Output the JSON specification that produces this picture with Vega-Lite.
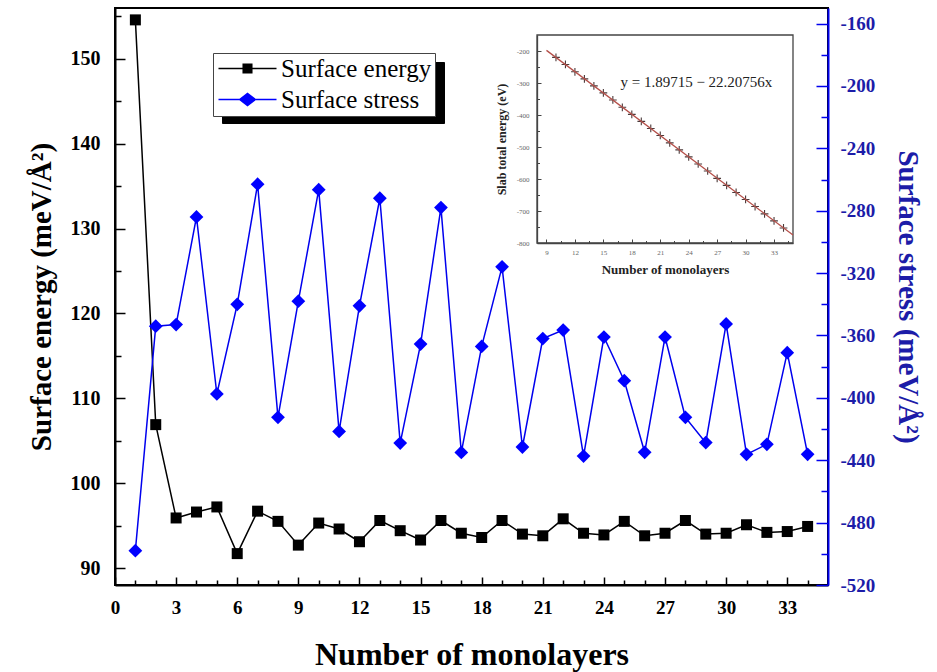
{
  "$schema": "https://vega.github.io/schema/vega-lite/v6.json",
  "width": 713,
  "height": 577,
  "autosize": {"type": "none"},
  "padding": {"left": 115, "top": 8, "right": 109, "bottom": 87},
  "background": "white",
  "config": {
    "view": {"stroke": "black", "strokeWidth": 2},
    "font": "Liberation Serif",
    "axis": {"grid": false, "labelFont": "Liberation Serif", "titleFont": "Liberation Serif", "labelOverlap": false, "labelFlush": false}
  },
  "datasets": {
    "main": [
      {"n": 1, "energy": 154.6, "stress": -498},
      {"n": 2, "energy": 106.9, "stress": -354},
      {"n": 3, "energy": 95.9, "stress": -353},
      {"n": 4, "energy": 96.6, "stress": -284},
      {"n": 5, "energy": 97.2, "stress": -397.5},
      {"n": 6, "energy": 91.7, "stress": -340},
      {"n": 7, "energy": 96.7, "stress": -263},
      {"n": 8, "energy": 95.5, "stress": -412.5},
      {"n": 9, "energy": 92.7, "stress": -338},
      {"n": 10, "energy": 95.3, "stress": -266.5},
      {"n": 11, "energy": 94.6, "stress": -421.5},
      {"n": 12, "energy": 93.1, "stress": -341},
      {"n": 13, "energy": 95.6, "stress": -272},
      {"n": 14, "energy": 94.4, "stress": -429},
      {"n": 15, "energy": 93.3, "stress": -365.5},
      {"n": 16, "energy": 95.6, "stress": -278},
      {"n": 17, "energy": 94.1, "stress": -435},
      {"n": 18, "energy": 93.6, "stress": -367},
      {"n": 19, "energy": 95.6, "stress": -316},
      {"n": 20, "energy": 94.0, "stress": -431.5},
      {"n": 21, "energy": 93.8, "stress": -362},
      {"n": 22, "energy": 95.8, "stress": -356.5},
      {"n": 23, "energy": 94.1, "stress": -437.3},
      {"n": 24, "energy": 93.9, "stress": -361},
      {"n": 25, "energy": 95.5, "stress": -389},
      {"n": 26, "energy": 93.8, "stress": -434.9},
      {"n": 27, "energy": 94.1, "stress": -361},
      {"n": 28, "energy": 95.6, "stress": -412.5},
      {"n": 29, "energy": 94.0, "stress": -428.7},
      {"n": 30, "energy": 94.1, "stress": -352.6},
      {"n": 31, "energy": 95.1, "stress": -436.2},
      {"n": 32, "energy": 94.2, "stress": -429.8},
      {"n": 33, "energy": 94.3, "stress": -371},
      {"n": 34, "energy": 94.9, "stress": -436.2}
    ],
    "inset": [
      {"n": 10, "E": -220}, {"n": 11, "E": -242}, {"n": 12, "E": -265}, {"n": 13, "E": -287},
      {"n": 14, "E": -309}, {"n": 15, "E": -331}, {"n": 16, "E": -353}, {"n": 17, "E": -376},
      {"n": 18, "E": -398}, {"n": 19, "E": -420}, {"n": 20, "E": -442}, {"n": 21, "E": -464},
      {"n": 22, "E": -487}, {"n": 23, "E": -509}, {"n": 24, "E": -531}, {"n": 25, "E": -553},
      {"n": 26, "E": -575}, {"n": 27, "E": -598}, {"n": 28, "E": -620}, {"n": 29, "E": -642},
      {"n": 30, "E": -664}, {"n": 31, "E": -686}, {"n": 32, "E": -709}, {"n": 33, "E": -731},
      {"n": 34, "E": -753}
    ],
    "fit": [{"n": 9, "E": -198}, {"n": 35, "E": -775}],
    "none": []
  },
  "layer": [
    {
      "data": {"name": "main"},
      "layer": [
        {
          "layer": [
            {
              "mark": {"type": "line", "color": "#000000", "strokeWidth": 1.5, "point": {"filled": true, "shape": "square", "size": 121, "color": "#000000", "opacity": 1}},
              "encoding": {
                "x": {
                  "field": "n", "type": "quantitative",
                  "scale": {"domain": [0, 35], "nice": false, "zero": false},
                  "axis": {
                    "orient": "bottom",
                    "values": [0,1,2,3,4,5,6,7,8,9,10,11,12,13,14,15,16,17,18,19,20,21,22,23,24,25,26,27,28,29,30,31,32,33,34],
                    "tickCount": 200,
                    "labelExpr": "datum.value % 3 === 0 ? '' + datum.value : ''",
                    "labelOverlap": false,
                    "tickSize": {"condition": {"test": "datum.value % 3 === 0", "value": -8}, "value": -5},
                    "tickColor": "black", "tickWidth": 1.5,
                    "domainColor": "black", "domainWidth": 2,
                    "labelPadding": 21, "labelFontSize": 19, "labelFontWeight": "bold", "labelColor": "black",
                    "title": "Number of monolayers", "titleFontSize": 32, "titleFontWeight": "bold", "titleColor": "black", "titlePadding": 19
                  }
                },
                "y": {
                  "field": "energy", "type": "quantitative",
                  "scale": {"domain": [88, 156], "nice": false, "zero": false},
                  "axis": {
                    "orient": "left",
                    "values": [90,95,100,105,110,115,120,125,130,135,140,145,150,155],
                    "tickCount": 200,
                    "labelExpr": "datum.value % 10 === 0 ? '' + datum.value : ''",
                    "labelOverlap": false,
                    "tickSize": {"condition": {"test": "datum.value % 10 === 0", "value": -10}, "value": -6},
                    "tickColor": "black", "tickWidth": 1.5,
                    "domainColor": "black", "domainWidth": 2,
                    "labelPadding": 25, "labelFontSize": 20, "labelFontWeight": "bold", "labelColor": "black",
                    "title": "Surface energy (meV/Å²)", "titleFontSize": 29, "titleFontWeight": "bold", "titleColor": "black", "titlePadding": 14
                  }
                }
              }
            },
            {
              "data": {"name": "none"},
              "mark": {"type": "point", "filled": true, "opacity": 1},
              "encoding": {
                "color": {
                  "datum": "Surface energy",
                  "scale": {"domain": ["Surface energy", "Surface stress"], "range": ["#000000", "#0000ff"]},
                  "legend": {
                    "orient": "none", "legendX": 98, "legendY": 45, "title": null,
                    "fillColor": "white", "strokeColor": "#444", "padding": 3, "rowPadding": 5,
                    "symbolSize": 374, "symbolOffset": 19, "labelOffset": 21, "symbolStrokeWidth": 0, "symbolOpacity": 1,
                    "labelFont": "Liberation Serif", "labelFontSize": 25, "labelColor": "black", "zindex": 2
                  }
                },
                "shape": {
                  "datum": "Surface energy",
                  "scale": {"domain": ["Surface energy", "Surface stress"], "range": ["M-3,-0.08H3V0.08H-3Z M-0.52,-0.52H0.52V0.52H-0.52Z", "M-3,-0.08H3V0.08H-3Z M0,-0.72L0.93,0L0,0.72L-0.93,0Z"]},
                  "legend": {
                    "orient": "none", "legendX": 98, "legendY": 45, "title": null,
                    "fillColor": "white", "strokeColor": "#444", "padding": 3, "rowPadding": 5,
                    "symbolSize": 374, "symbolOffset": 19, "labelOffset": 21, "symbolStrokeWidth": 0, "symbolOpacity": 1,
                    "labelFont": "Liberation Serif", "labelFontSize": 25, "labelColor": "black", "zindex": 2
                  }
                }
              }
            },
            {
              "data": {"name": "none"},
              "mark": {"type": "point", "filled": true, "opacity": 1},
              "encoding": {
                "color": {"datum": "Surface stress"},
                "shape": {"datum": "Surface stress"}
              }
            },
            {
              "data": {"name": "none"},
              "mark": {"type": "point", "filled": true, "color": "#000000", "opacity": 1},
              "encoding": {
                "size": {
                  "datum": "E", "type": "ordinal",
                  "scale": {"domain": ["E", "S"], "range": [625, 625]},
                  "legend": {
                    "orient": "none", "legendX": 107, "legendY": 54, "title": null,
                    "fillColor": "black", "strokeColor": "black", "padding": 3, "rowPadding": 5,
                    "symbolType": "M-8.64,-1H8.64V1H-8.64Z",
                    "symbolOffset": 95.5, "labelOffset": 0, "symbolStrokeWidth": 0, "symbolOpacity": 1,
                    "symbolFillColor": "black", "symbolStrokeColor": "black",
                    "labelExpr": "''",
                    "labelFontSize": 1, "labelColor": "black", "zindex": 1
                  }
                }
              }
            },
            {
              "data": {"name": "none"},
              "mark": {"type": "point", "filled": true, "color": "#000000", "opacity": 1},
              "encoding": {
                "size": {"datum": "S", "type": "ordinal"}
              }
            }
          ]
        },
        {
          "mark": {"type": "line", "color": "#0000ee", "strokeWidth": 1.5, "point": {"filled": true, "shape": "diamond", "size": 190, "color": "#0000ff", "opacity": 1}},
          "encoding": {
            "x": {"field": "n", "type": "quantitative"},
            "y": {
              "field": "stress", "type": "quantitative",
              "scale": {"domain": [-520, -150], "nice": false, "zero": false},
              "axis": {
                "orient": "right",
                "values": [-520,-500,-480,-460,-440,-420,-400,-380,-360,-340,-320,-300,-280,-260,-240,-220,-200,-180,-160],
                "tickCount": 200,
                "labelExpr": "datum.value % 40 === 0 ? '' + datum.value : ''",
                "labelOverlap": false,
                "tickSize": {"condition": {"test": "datum.value % 40 === 0", "value": -12}, "value": -7},
                "tickColor": "#0000ee", "tickWidth": 1.5,
                "domainColor": "#0000ee", "domainWidth": 2,
                "labelPadding": 24, "labelFontSize": 19, "labelFontWeight": "bold", "labelColor": "#1c1ca8",
                "title": "Surface stress (meV/Å²)", "titleFontSize": 29, "titleFontWeight": "bold", "titleColor": "#1c1ca8", "titlePadding": 18
              }
            }
          }
        }
      ],
      "resolve": {"scale": {"y": "independent"}}
    },
    {
      "layer": [
        {
          "data": {"values": [{}]},
          "mark": {"type": "rect", "fill": "white", "stroke": "#444444", "strokeWidth": 1.3},
          "encoding": {
            "x": {
              "datum": 8, "type": "quantitative",
              "scale": {"domain": [8, 35], "range": [422, 678], "nice": false, "zero": false},
              "axis": {
                "orient": "bottom", "offset": -342, "zindex": 1,
                "values": [9,10.5,12,13.5,15,16.5,18,19.5,21,22.5,24,25.5,27,28.5,30,31.5,33,34.5],
                "tickCount": 200,
                "labelExpr": "datum.value % 3 === 0 ? '' + datum.value : ''",
                "labelOverlap": false,
                "tickSize": {"condition": {"test": "datum.value % 3 === 0", "value": -4}, "value": -2.5},
                "tickColor": "#444", "tickWidth": 1, "domainColor": "#444", "domainWidth": 1.3,
                "labelPadding": 9, "labelFontSize": 7, "labelColor": "#666",
                "title": "Number of monolayers", "titleFontSize": 13, "titleFontWeight": "bold", "titleColor": "#222", "titlePadding": 7
              }
            },
            "x2": {"datum": 35},
            "y": {
              "datum": -800, "type": "quantitative",
              "scale": {"domain": [-800, -150], "range": [235, 27], "nice": false, "zero": false},
              "axis": {
                "orient": "left", "offset": -422, "zindex": 1,
                "values": [-800,-750,-700,-650,-600,-550,-500,-450,-400,-350,-300,-250,-200],
                "tickCount": 200,
                "labelExpr": "datum.value % 100 === 0 ? '' + datum.value : ''",
                "labelOverlap": false,
                "tickSize": {"condition": {"test": "datum.value % 100 === 0", "value": -4}, "value": -2.5},
                "tickColor": "#444", "tickWidth": 1, "domainColor": "#444", "domainWidth": 1.3,
                "labelPadding": 12, "labelFontSize": 7, "labelColor": "#666",
                "title": "Slab total energy (eV)", "titleFontSize": 12, "titleFontWeight": "bold", "titleColor": "#222", "titlePadding": 8
              }
            },
            "y2": {"datum": -150}
          }
        },
        {
          "data": {"name": "inset"},
          "mark": {"type": "point", "shape": "M-1,0H1M0,-1V1", "filled": false, "size": 60, "stroke": "#4a3a3a", "strokeWidth": 1.1, "opacity": 1},
          "encoding": {
            "x": {"field": "n", "type": "quantitative"},
            "y": {"field": "E", "type": "quantitative"}
          }
        },
        {
          "data": {"name": "fit"},
          "mark": {"type": "line", "color": "#b5504a", "strokeWidth": 1.3},
          "encoding": {
            "x": {"field": "n", "type": "quantitative"},
            "y": {"field": "E", "type": "quantitative"}
          }
        },
        {
          "data": {"values": [{}]},
          "mark": {"type": "text", "align": "left", "baseline": "middle", "font": "Liberation Serif", "fontSize": 15, "color": "#222"},
          "encoding": {
            "x": {"datum": 16.8, "type": "quantitative"},
            "y": {"datum": -297, "type": "quantitative"},
            "text": {"value": "y = 1.89715 − 22.20756x"}
          }
        }
      ]
    }
  ],
  "resolve": {"scale": {"x": "independent", "y": "independent"}}
}
